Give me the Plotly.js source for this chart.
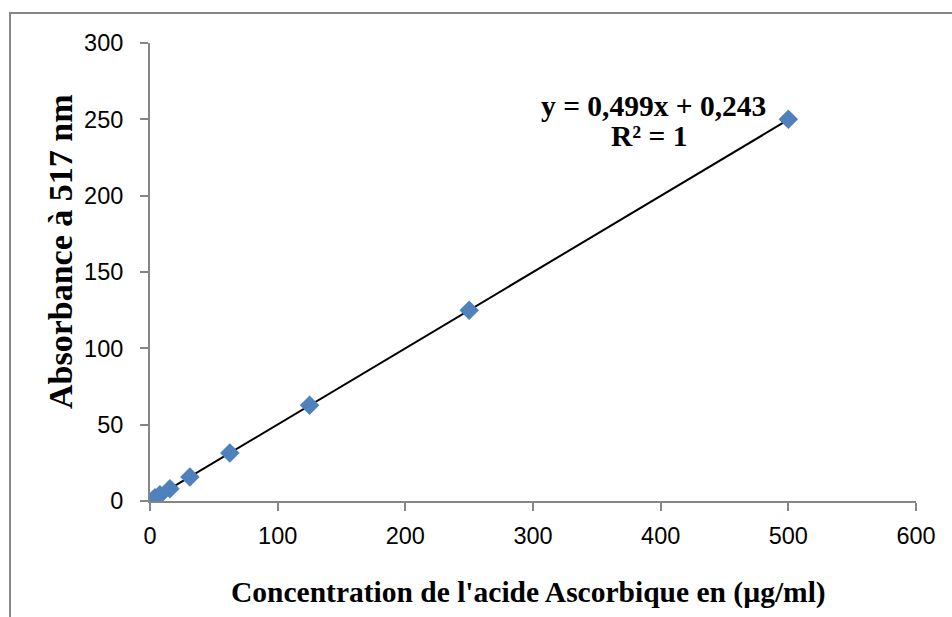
<!DOCTYPE html>
<html><head><meta charset="utf-8">
<script src="https://cdn.plot.ly/plotly-3.0.1.min.js"></script>
<style>html,body{margin:0;padding:0;background:#fff}#c{width:952px;height:617px}</style>
</head><body><div id="c"></div>
<script>
const concentration = [3.9, 7.8, 15.6, 31.25, 62.5, 125, 250, 500];
const absorbance = [2.2, 4.1, 8.0, 15.8, 31.4, 62.7, 125.0, 250.0];
const trendX = [3.9, 500];
const trendY = [2.19, 249.74];
const xTicks = [0, 100, 200, 300, 400, 500, 600];
const yTicks = [0, 50, 100, 150, 200, 250, 300];
const equationLine1 = "y = 0,499x + 0,243";
const equationLine2 = "R² = 1";
const xTitle = "Concentration de l'acide Ascorbique en (µg/ml)";
const yTitle = "Absorbance à 517 nm";

const L=150, R=916, T=43, B=501, W=952, H=617;
const pw=R-L, ph=B-T;
const px = v => (v-L)/pw;
const py = v => (B-v)/ph;
const serif = 'Liberation Serif, Times New Roman, serif';
const sans = 'Liberation Sans, Arial, sans-serif';

const data = [
  {x: trendX, y: trendY, mode:'lines', line:{color:'#000', width:2}, hoverinfo:'skip'},
  {x: concentration, y: absorbance, mode:'markers',
   marker:{symbol:'diamond', size:15, color:'#4F81BD', line:{width:0}}}
];
const layout = {
  width:W, height:H, showlegend:false,
  margin:{l:L, r:W-R, t:T, b:H-B, pad:0},
  paper_bgcolor:'#fff', plot_bgcolor:'#fff',
  font:{family:sans, color:'#000'},
  xaxis:{range:[0,600], tickvals:xTicks, ticktext:xTicks.map(String),
    showgrid:false, zeroline:false, showline:true, linecolor:'#868686', linewidth:2,
    ticks:'outside', ticklen:8, tickwidth:2, tickcolor:'#868686',
    tickfont:{size:23.5, family:sans}, ticklabelstandoff:5},
  yaxis:{range:[0,300], tickvals:yTicks, ticktext:yTicks.map(String),
    showgrid:false, zeroline:false, showline:true, linecolor:'#868686', linewidth:2,
    ticks:'outside', ticklen:8, tickwidth:2, tickcolor:'#868686',
    tickfont:{size:23.5, family:sans}, ticklabelstandoff:12},
  annotations:[
    {xref:'paper', yref:'paper', x:px(653), y:py(124), xanchor:'center', yanchor:'bottom',
     text:'<b>'+equationLine1+'</b>', showarrow:false,
     font:{family:serif, size:29.5, color:'#000'}},
    {xref:'paper', yref:'paper', x:px(649), y:py(154), xanchor:'center', yanchor:'bottom',
     text:'<b>'+equationLine2+'</b>', showarrow:false,
     font:{family:serif, size:29.5, color:'#000'}},
    {xref:'paper', yref:'paper', x:px(528.5), y:py(592), xanchor:'center', yanchor:'middle',
     text:'<b>'+xTitle+'</b>', showarrow:false,
     font:{family:serif, size:29.5, color:'#000'}},
    {xref:'paper', yref:'paper', x:px(60), y:py(252), xanchor:'center', yanchor:'middle',
     text:'<b>'+yTitle+'</b>', showarrow:false, textangle:-90,
     font:{family:serif, size:34, color:'#000'}}
  ],
  shapes:[
    {type:'line', xref:'paper', yref:'paper', x0:px(10), x1:px(10), y0:py(13), y1:py(617), line:{color:'#868686', width:2}},
    {type:'line', xref:'paper', yref:'paper', x0:px(9), x1:px(952), y0:py(13), y1:py(13), line:{color:'#868686', width:2}}
  ]
};
Plotly.newPlot('c', data, layout, {displayModeBar:false, staticPlot:true});
</script></body></html>
